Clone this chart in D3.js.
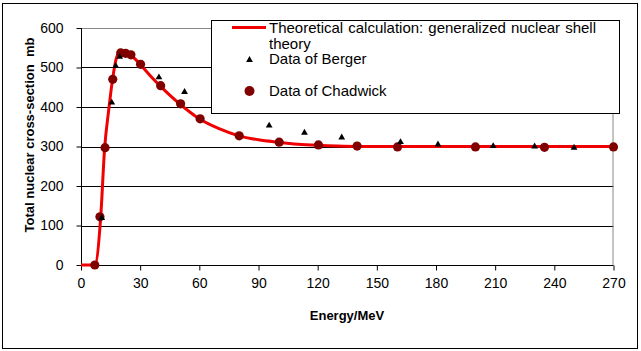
<!DOCTYPE html>
<html>
<head>
<meta charset="utf-8">
<script src="https://cdn.jsdelivr.net/npm/d3@7"></script>
<style>
  body { margin: 0; background: #fff; }
  text { font-family: "Liberation Sans", Arial, sans-serif; }
</style>
</head>
<body>
<div id="chart-area"></div>
<script>
// data
var xTicks = [0, 30, 60, 90, 120, 150, 180, 210, 240, 270];
var yTicks = [0, 100, 200, 300, 400, 500, 600];

var theoryE = [0, 7, 10, 12, 14, 16, 18, 20, 22, 25, 30, 35, 40, 45, 50, 55, 60, 70, 80, 90, 100, 110, 120, 130, 140, 160, 200, 235, 270];
var theoryV = [0, 0, 122, 297, 390, 470, 525, 540, 538, 532, 508, 480, 454, 430, 408, 388, 370, 345, 327, 317, 311, 306, 303, 301, 300, 300, 300, 300, 300];

var bergerE = [10.5, 15.6, 17.6, 19.6, 39.5, 52.5, 95.4, 113.3, 132.2, 162, 181, 209, 230, 250];
var bergerV = [119, 411, 504, 527, 475, 438, 353, 335, 323, 311, 305, 301, 300, 297];

var chadE = [7, 9.6, 12.2, 16.1, 20.1, 22.6, 25.3, 30.2, 40.4, 50.5, 60.4, 80.2, 100.5, 120.4, 140, 160.5, 200, 235, 270];
var chadV = [0, 122, 297, 470, 537, 536, 532, 508, 454, 408, 370, 327, 311, 304, 301, 299, 299, 298, 299];

var legendLabels = ["Theoretical calculation:  generalized  nuclear shell", "theory", "Data of Berger", "Data of Chadwick"];

var W = 641, H = 351;
var margin = {top: 28, left: 81, right: 27.5, bottom: 86};
var width = W - margin.left - margin.right;
var height = H - margin.top - margin.bottom;

var svg = d3.select('#chart-area')
    .append('svg')
        .attr('width', W)
        .attr('height', H);

// outer frame
svg.append('rect')
    .attr('x', 2.5).attr('y', 3.5)
    .attr('width', 635).attr('height', 345)
    .attr('fill', 'white').attr('stroke', 'black');

var g = svg.append('g')
    .attr('transform', 'translate(' + margin.left + ', ' + margin.top + ')');

var x = d3.scaleLinear().domain([0, 270]).range([0, width]);
var y = d3.scaleLinear().domain([0, 600]).range([height, 0]);

// gridlines
g.selectAll('.grid')
    .data(yTicks.filter(function(d) { return d > 0 && d < 600; }))
    .enter().append('line')
        .attr('x1', 0).attr('x2', width)
        .attr('y1', function(d) { return Math.round(y(d)) + 0.5; })
        .attr('y2', function(d) { return Math.round(y(d)) + 0.5; })
        .attr('stroke', 'black');

// gray plot border top/right
g.append('path')
    .attr('d', 'M0,0.5H' + (width - 0.5) + 'V' + height)
    .attr('fill', 'none')
    .attr('stroke', '#888');

var leftAxis = d3.axisLeft(y).tickValues(yTicks).tickSize(5).tickPadding(13);
var ga = g.append('g').attr('class', 'left axis').attr('transform', 'translate(0.5,0)').call(leftAxis);

var bottomAxis = d3.axisBottom(x).tickValues(xTicks).tickSize(5).tickPadding(8);
var gb = g.append('g').attr('class', 'bottom axis').attr('transform', 'translate(0,' + (height + 0.5) + ')').call(bottomAxis);

svg.selectAll('.axis path, .axis line').attr('stroke', 'black');
svg.selectAll('.axis text').attr('font-size', '14px').attr('fill', 'black')
    .style('font-family', '"Liberation Sans", Arial, sans-serif');
ga.select('.domain').attr('d', 'M0,0V' + height);
gb.select('.domain').attr('d', 'M0,0H' + width);

// theory line
var theory = theoryE.map(function(e, i) { return {e: e, v: theoryV[i]}; });
var line = d3.line()
    .x(function(d) { return x(d.e); })
    .y(function(d) { return y(d.v); })
    .curve(d3.curveMonotoneX);

g.append('path')
    .datum(theory)
    .attr('d', line)
    .attr('fill', 'none')
    .attr('stroke', '#f00000')
    .attr('stroke-width', 3);

// Chadwick
var chad = chadE.map(function(e, i) { return {e: e, v: chadV[i]}; });
g.selectAll('.chad')
    .data(chad)
    .enter().append('circle')
        .attr('cx', function(d) { return x(d.e); })
        .attr('cy', function(d) { return y(d.v); })
        .attr('r', 4.6)
        .attr('fill', '#800000');

// Berger
var berger = bergerE.map(function(e, i) { return {e: e, v: bergerV[i]}; });
var tri = d3.symbol().type(d3.symbolTriangle).size(20);
g.selectAll('.berger')
    .data(berger)
    .enter().append('path')
        .attr('d', tri)
        .attr('transform', function(d) { return 'translate(' + x(d.e) + ',' + y(d.v) + ')'; })
        .attr('fill', 'black');

// axis titles
svg.append('text')
    .attr('x', 347).attr('y', 320)
    .attr('text-anchor', 'middle')
    .attr('font-size', '13px').attr('font-weight', 'bold')
    .text('Energy/MeV');

svg.append('text')
    .attr('transform', 'translate(34,135) rotate(-90)')
    .attr('text-anchor', 'middle')
    .attr('font-size', '13px').attr('font-weight', 'bold')
    .style('white-space', 'pre')
    .text('Total nuclear cross-section  mb');

// legend
var lg = svg.append('g');
lg.append('rect')
    .attr('x', 211.5).attr('y', 20.5)
    .attr('width', 408).attr('height', 93)
    .attr('fill', 'white').attr('stroke', 'black');

lg.append('line')
    .attr('x1', 232).attr('x2', 266)
    .attr('y1', 27.5).attr('y2', 27.5)
    .attr('stroke', '#f00000').attr('stroke-width', 3);
lg.append('path')
    .attr('d', tri)
    .attr('transform', 'translate(249.5,60)')
    .attr('fill', 'black');
lg.append('circle')
    .attr('cx', 249.5).attr('cy', 91)
    .attr('r', 5)
    .attr('fill', '#800000');

// first legend line justified across the box
var words = legendLabels[0].split(/\s+/);
var x0 = 269, x1 = 596;
var wt = words.map(function(w) {
    return lg.append('text').attr('y', 33).attr('font-size', '15px').text(w);
});
var total = d3.sum(wt, function(t) { return t.node().getComputedTextLength(); });
var gap = (x1 - x0 - total) / (words.length - 1);
var cx = x0;
wt.forEach(function(t) {
    t.attr('x', cx);
    cx += t.node().getComputedTextLength() + gap;
});

var rows = [{t: legendLabels[1], y: 48.5}, {t: legendLabels[2], y: 64}, {t: legendLabels[3], y: 96}];
rows.forEach(function(r) {
    lg.append('text')
        .attr('x', x0).attr('y', r.y)
        .attr('font-size', '15px')
        .text(r.t);
});
</script>
</body>
</html>
